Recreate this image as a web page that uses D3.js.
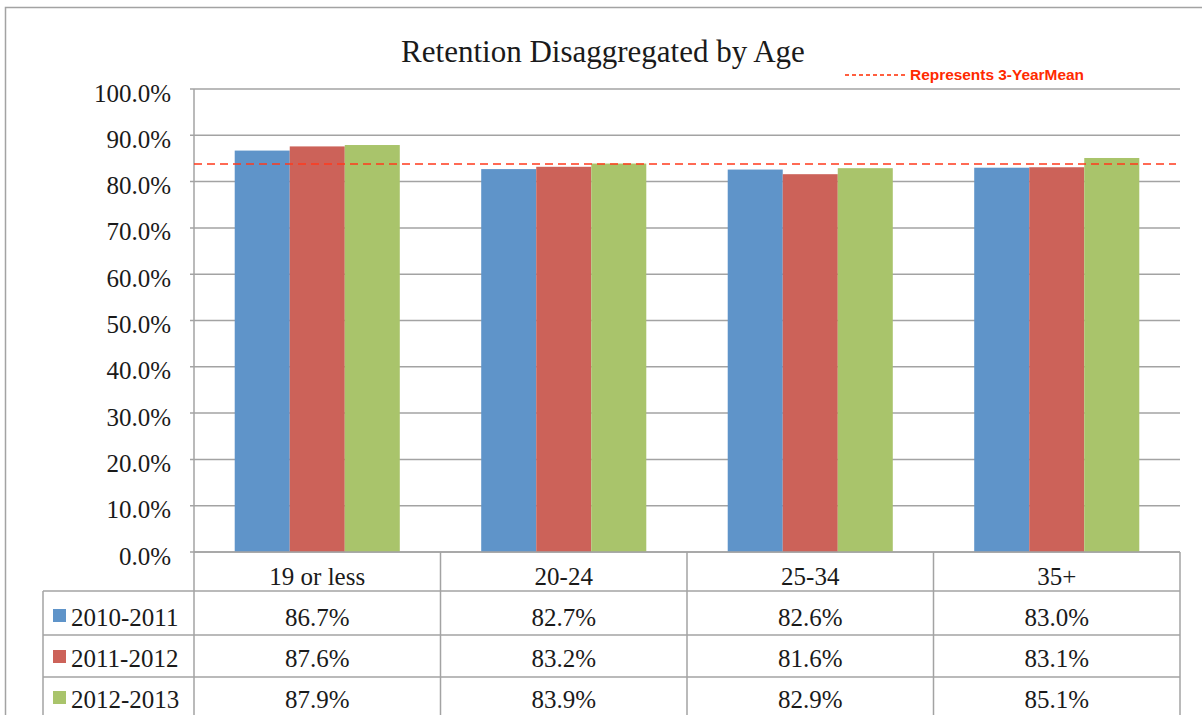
<!DOCTYPE html>
<html>
<head>
<meta charset="utf-8">
<script src="https://cdn.jsdelivr.net/npm/d3@7"></script>
<style>
  body { margin: 0; background: #fff; }
  svg { display: block; }
  text { font-family: "Liberation Serif", "Times New Roman", serif; fill: #1a1a1a; }
</style>
</head>
<body>
<div id="chart"></div>
<script>
// chart data
var categories = ["19 or less", "20-24", "25-34", "35+"];
var seriesNames = ["2010-2011", "2011-2012", "2012-2013"];
var values2010 = [0.867, 0.827, 0.826, 0.830];
var values2011 = [0.876, 0.832, 0.816, 0.831];
var values2012 = [0.879, 0.839, 0.829, 0.851];
var seriesColors = ["#5f94c9", "#cc6259", "#a9c46b"];
var meanValue = 0.838; // dashed "3-year mean" line, as drawn
var titleText = "Retention Disaggregated by Age";
var legendText = "Represents 3-YearMean";

var series = seriesNames.map(function(name, i) {
  return { name: name, color: seriesColors[i], values: [values2010, values2011, values2012][i] };
});

var W = 1202, H = 715;
var plot = { left: 194, right: 1180, top: 89, bottom: 552 };
var tableLeft = 43, rowH = [552, 591, 635, 677, 720]; // header row + one row per series
var gridColor = "#a3a3a3";

var svg = d3.select("#chart").append("svg")
    .attr("width", W)
    .attr("height", H);

// outer chart border
svg.append("rect")
    .attr("x", 5.5).attr("y", 7.5)
    .attr("width", W + 10).attr("height", H + 10)
    .attr("fill", "none")
    .attr("stroke", gridColor)
    .attr("stroke-width", 1.5);

svg.append("text")
    .attr("x", 603).attr("y", 62)
    .attr("text-anchor", "middle")
    .attr("font-size", 31)
    .text(titleText);

var y = d3.scaleLinear().domain([0, 1]).range([plot.bottom, plot.top]);
var x0 = d3.scaleBand().domain(categories).range([plot.left, plot.right]).padding(0);
var x1 = d3.scaleBand().domain(seriesNames).range([0, x0.bandwidth()])
    .paddingInner(0).paddingOuter(0.74);

// gridlines
var yTicks = y.ticks(10);
svg.append("g").selectAll("line")
    .data(yTicks)
  .enter().append("line")
    .attr("x1", plot.left - 4).attr("x2", plot.right)
    .attr("y1", function(d) { return y(d); })
    .attr("y2", function(d) { return y(d); })
    .attr("stroke", gridColor)
    .attr("stroke-width", 1.5);

// y axis line
svg.append("line")
    .attr("x1", plot.left).attr("x2", plot.left)
    .attr("y1", plot.top).attr("y2", plot.bottom)
    .attr("stroke", gridColor)
    .attr("stroke-width", 1.5);

svg.append("g").selectAll("text")
    .data(yTicks)
  .enter().append("text")
    .attr("x", 171)
    .attr("y", function(d) { return y(d) + 12.5; })
    .attr("text-anchor", "end")
    .attr("font-size", 25)
    .text(d3.format(".1%"));

// bars
var groups = svg.append("g").selectAll("g")
    .data(series)
  .enter().append("g")
    .attr("fill", function(d) { return d.color; });

groups.selectAll("rect")
    .data(function(s) { return s.values.map(function(v, i) { return { name: s.name, cat: categories[i], value: v }; }); })
  .enter().append("rect")
    .attr("x", function(d) { return x0(d.cat) + x1(d.name); })
    .attr("width", x1.bandwidth())
    .attr("y", function(d) { return y(d.value); })
    .attr("height", function(d) { return y(0) - y(d.value); });

// mean line
svg.append("line")
    .attr("x1", plot.left).attr("x2", plot.right - 4)
    .attr("y1", y(meanValue)).attr("y2", y(meanValue))
    .attr("stroke", "#ff3a1c")
    .attr("stroke-width", 1.5)
    .attr("stroke-dasharray", "8,5");

// legend for mean line
svg.append("line")
    .attr("x1", 845).attr("x2", 907)
    .attr("y1", 75).attr("y2", 75)
    .attr("stroke", "#ff2a00")
    .attr("stroke-width", 1.5)
    .attr("stroke-dasharray", "4,3");
svg.append("text")
    .attr("x", 910).attr("y", 80)
    .attr("font-size", 15)
    .attr("textLength", 174)
    .attr("lengthAdjust", "spacingAndGlyphs")
    .style("font-family", "'Liberation Sans', Arial, sans-serif")
    .style("font-weight", "bold")
    .style("fill", "#ff2a00")
    .text(legendText);

// data table under the plot
var table = svg.append("g")
    .attr("fill", "none")
    .attr("stroke", gridColor)
    .attr("stroke-width", 1.5);

// header row
table.append("line")
    .attr("x1", plot.left).attr("x2", plot.right)
    .attr("y1", rowH[0]).attr("y2", rowH[0]);
// row separators
rowH.slice(1).forEach(function(yy) {
  table.append("line")
      .attr("x1", tableLeft).attr("x2", plot.right)
      .attr("y1", yy).attr("y2", yy);
});
// column separators
x0.domain().map(function(c) { return x0(c); }).concat([plot.right]).forEach(function(xx) {
  table.append("line")
      .attr("x1", xx).attr("x2", xx)
      .attr("y1", rowH[0]).attr("y2", rowH[rowH.length - 1]);
});
table.append("line")
    .attr("x1", tableLeft).attr("x2", tableLeft)
    .attr("y1", rowH[1]).attr("y2", rowH[rowH.length - 1]);

svg.append("g").selectAll("text")
    .data(categories)
  .enter().append("text")
    .attr("x", function(d) { return x0(d) + x0.bandwidth() / 2; })
    .attr("y", 585)
    .attr("text-anchor", "middle")
    .attr("font-size", 25)
    .text(function(d) { return d; });

var rowBase = [626, 667, 708];
var rows = svg.append("g").selectAll("g")
    .data(series)
  .enter().append("g");

rows.append("rect")
    .attr("x", 53)
    .attr("y", function(d, i) { return rowBase[i] - 17; })
    .attr("width", 13).attr("height", 13)
    .attr("fill", function(d) { return d.color; });

rows.append("text")
    .attr("x", 71)
    .attr("y", function(d, i) { return rowBase[i]; })
    .attr("font-size", 25)
    .text(function(d) { return d.name; });

rows.each(function(s, i) {
  d3.select(this).selectAll("text.val")
      .data(s.values)
    .enter().append("text")
      .attr("class", "val")
      .attr("x", function(d, j) { return x0(categories[j]) + x0.bandwidth() / 2; })
      .attr("y", rowBase[i])
      .attr("text-anchor", "middle")
      .attr("font-size", 25)
      .text(d3.format(".1%"));
});
</script>
</body>
</html>
